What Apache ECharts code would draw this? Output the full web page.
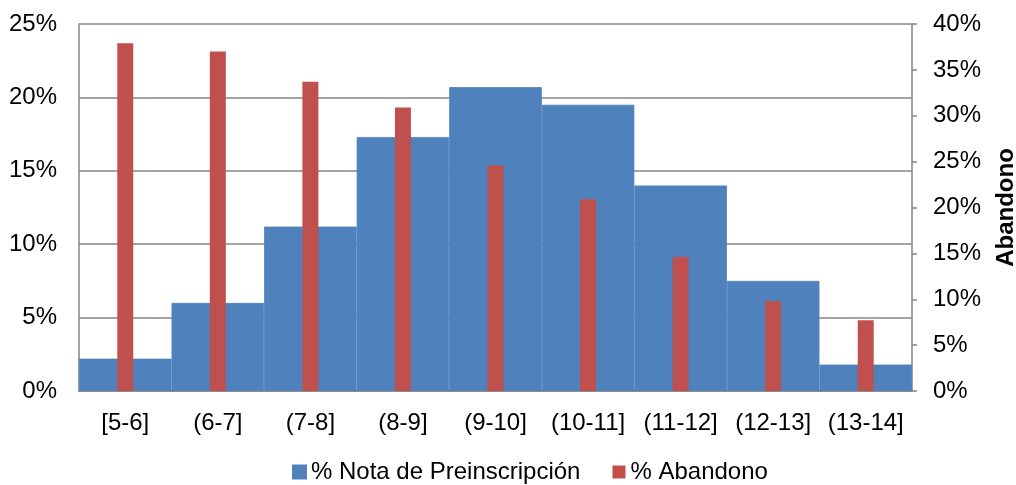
<!DOCTYPE html>
<html>
<head>
<meta charset="utf-8">
<script src="https://cdn.jsdelivr.net/npm/echarts@6/dist/echarts.min.js"></script>
<style>
html,body{margin:0;padding:0;background:#fff;}
#c{width:1016px;height:485px;}
</style>
</head>
<body>
<div id="c"></div>
<script>
const categories = ['[5-6]', '(6-7]', '(7-8]', '(8-9]', '(9-10]', '(10-11]', '(11-12]', '(12-13]', '(13-14]'];
const notaPreinscripcion = [2.2, 6.0, 11.2, 17.3, 20.7, 19.5, 14.0, 7.5, 1.8];
const abandono = [37.9, 37.0, 33.7, 30.9, 24.6, 20.9, 14.6, 9.8, 7.7];
const leftTicks = { min: 0, max: 25, interval: 5 };
const rightTicks = { min: 0, max: 40, interval: 5 };

const font = 'Liberation Sans, Arial, sans-serif';
const fs = 24;
const chart = echarts.init(document.getElementById('c'));
chart.setOption({
  animation: false,
  backgroundColor: '#fff',
  textStyle: { fontFamily: font },
  grid: { left: 79, right: 104, top: 24, bottom: 94, containLabel: false, outerBoundsMode: 'none' },
  legend: {
    left: 287, top: 455,
    icon: 'rect', itemWidth: 13, itemHeight: 13, itemGap: 32,
    textStyle: { fontFamily: font, fontSize: fs, color: '#000' },
    data: ['% Nota de Preinscripción', '% Abandono']
  },
  xAxis: [
    {
      type: 'category', data: categories,
      axisLine: { lineStyle: { color: '#868686', width: 1.5 } },
      axisTick: { show: false },
      axisLabel: { fontFamily: font, fontSize: fs, color: '#000', margin: 20, interval: 0 }
    },
    {
      type: 'category', data: categories, show: false
    }
  ],
  yAxis: [
    {
      type: 'value', min: leftTicks.min, max: leftTicks.max, interval: leftTicks.interval,
      axisLine: { show: true, lineStyle: { color: '#868686', width: 1.5 } },
      axisTick: { show: false },
      splitLine: { lineStyle: { color: '#868686', width: 1.5 } },
      axisLabel: { formatter: '{value}%', fontFamily: font, fontSize: fs, color: '#000', margin: 22 }
    },
    {
      type: 'value', position: 'right', min: rightTicks.min, max: rightTicks.max, interval: rightTicks.interval,
      name: 'Abandono', nameLocation: 'middle', nameRotate: 90, nameGap: 82,
      nameTextStyle: { fontFamily: font, fontSize: fs, fontWeight: 'bold', color: '#000' },
      axisLine: { show: true, lineStyle: { color: '#868686', width: 1.5 } },
      axisTick: { show: true, inside: false, length: 5, lineStyle: { color: '#868686', width: 1.5 } },
      splitLine: { show: false },
      axisLabel: { formatter: '{value}%', fontFamily: font, fontSize: fs, color: '#000', margin: 21 }
    }
  ],
  series: [
    {
      name: '% Nota de Preinscripción', type: 'bar', xAxisIndex: 0, yAxisIndex: 0,
      data: notaPreinscripcion, barCategoryGap: '0%',
      itemStyle: { color: '#4F81BD', borderColor: '#4F81BD', borderWidth: 0.8 }
    },
    {
      name: '% Abandono', type: 'bar', xAxisIndex: 1, yAxisIndex: 1,
      data: abandono, barWidth: 16,
      itemStyle: { color: '#C0504D' }
    }
  ]
});
</script>
</body>
</html>
